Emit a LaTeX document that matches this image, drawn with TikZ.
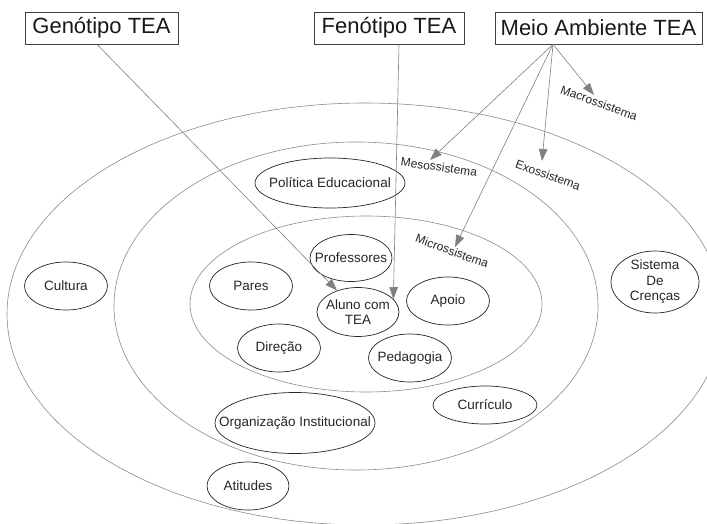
\documentclass[tikz,border=0pt]{standalone}
\usepackage{fontspec}
\setmainfont{Liberation Sans}
\usetikzlibrary{arrows.meta,shapes.geometric}
\tikzset{
  ring/.style={draw=black!45, line width=0.6pt},
  elnode/.style={ellipse, draw=black!85, line width=0.7pt, inner sep=0pt},
  eltext/.style={inner sep=0pt, font=\fontsize{13.5}{15.5}\selectfont, text=black!85, align=center},
  topbox/.style={rectangle, draw=black!75, line width=0.7pt, inner sep=0pt,
    minimum height=32pt, font=\fontsize{22}{24}\selectfont, text=black!90},
  conn/.style={draw=black!50, line width=0.6pt, -{Triangle[length=12pt,width=8.5pt]}},
  syslabel/.style={font=\fontsize{12}{14}\selectfont, text=black!85, inner sep=0pt}
}
\begin{document}
\begin{tikzpicture}[x=1pt,y=-1pt]
\useasboundingbox (0,0) rectangle (707,524);
\clip (0,0) rectangle (707,524);
\fill[white] (0,0) rectangle (707,524);
% rings
\draw[ring] (365,314) ellipse [x radius=358pt, y radius=211pt];
\draw[ring] (356,306) ellipse [x radius=242pt, y radius=164pt];
\draw[ring] (366,304) ellipse [x radius=176pt, y radius=88pt];
% top boxes
\node[topbox, minimum width=153pt] (gen) at (101.5,28) {Genótipo TEA};
\node[topbox, minimum width=150pt] (fen) at (389,28) {Fenótipo TEA};
\node[topbox, minimum width=207pt] (meio) at (598.5,28) {Meio Ambiente TEA};
% ellipse nodes
\node[elnode, minimum width=150pt, minimum height=50pt] (pol) at (330,183) {};
\node[eltext] (polt) at (pol) {Política Educacional};
\node[elnode, minimum width=82pt, minimum height=47pt] (prof) at (351,258) {};
\node[eltext] (proft) at (prof) {Professores};
\node[elnode, minimum width=83pt, minimum height=48pt] (pares) at (251,286) {};
\node[eltext] (parest) at (pares) {Pares};
\node[elnode, minimum width=82pt, minimum height=49pt] (aluno) at (358,312) {};
\node[eltext] (alunot) at (aluno) {Aluno com\\TEA};
\node[elnode, minimum width=83pt, minimum height=48pt] (apoio) at (448,301) {};
\node[eltext] (apoiot) at (apoio) {Apoio};
\node[elnode, minimum width=83pt, minimum height=48pt] (dir) at (279,348) {};
\node[eltext] (dirt) at (dir) {Direção};
\node[elnode, minimum width=83pt, minimum height=48pt] (ped) at (410,358) {};
\node[eltext] (pedt) at (ped) {Pedagogia};
\node[elnode, minimum width=160pt, minimum height=61pt] (org) at (295,423) {};
\node[eltext] (orgt) at (org) {Organização Institucional};
\node[elnode, minimum width=104pt, minimum height=38pt] (cur) at (485,405) {};
\node[eltext] (curt) at (cur) {Currículo};
\node[elnode, minimum width=82pt, minimum height=48pt] (atit) at (248,486) {};
\node[eltext] (atitt) at (atit) {Atitudes};
\node[elnode, minimum width=83pt, minimum height=48pt] (cult) at (66,286) {};
\node[eltext] (cultt) at (cult) {Cultura};
\node[elnode, minimum width=88pt, minimum height=62pt] (cren) at (655,282) {};
\node[eltext] (crent) at (cren) {Sistema\\De\\Crenças};
% system labels
\node[syslabel, rotate=-20] (lmacro) at (599,103) {Macrossistema};
\node[syslabel, rotate=-8] (lmeso) at (439,167) {Mesossistema};
\node[syslabel, rotate=-20] (lexo) at (548,175) {Exossistema};
\node[syslabel, rotate=-20] (lmicro) at (452,251) {Microssistema};
% connector ends
\coordinate (gs) at ([xshift=-4.5pt]gen.south);
\coordinate (fs) at ([xshift=10pt]fen.south);
\coordinate (ms) at ([xshift=-45.5pt]meio.south);
\coordinate (tmacro) at (594,95);
\coordinate (tmeso) at (430,160);
\coordinate (texo) at (542,161);
\coordinate (tmicro) at (455,247);
% connectors
\draw[conn] (gs) -- (aluno);
\draw[conn] (fs) -- (aluno.20);
\draw[conn] (ms) -- (tmacro);
\draw[conn] (ms) -- (tmeso);
\draw[conn] (ms) -- (texo);
\draw[conn] (ms) -- (tmicro);
\end{tikzpicture}
\end{document}
